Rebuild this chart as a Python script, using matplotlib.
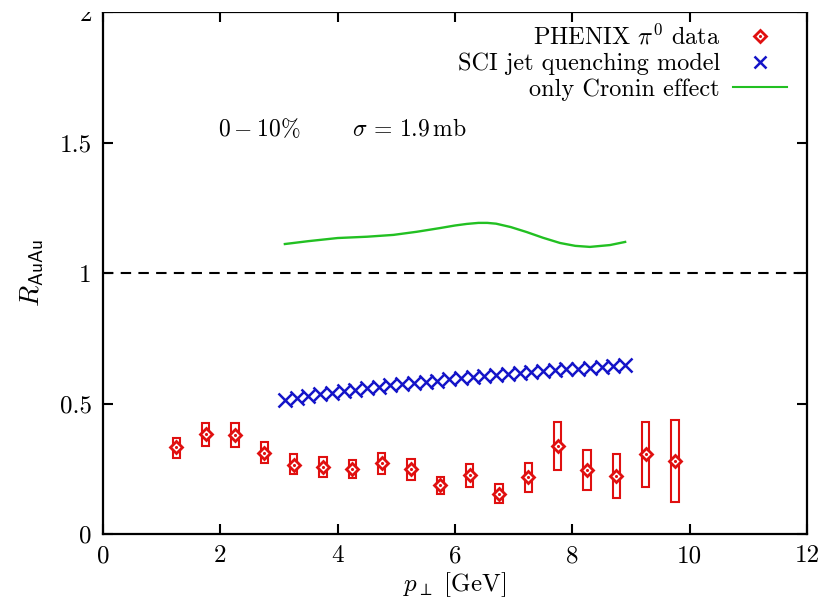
import matplotlib
matplotlib.use("Agg")
import matplotlib.pyplot as plt
from matplotlib.lines import Line2D
from matplotlib.patches import Rectangle

plt.rcParams['font.family'] = 'cmr10'
plt.rcParams['mathtext.fontset'] = 'cm'
plt.rcParams['axes.formatter.use_mathtext'] = True

# PHENIX pi0 data: pT, R_AA, systematic box (low, high)
pt_data = [1.25, 1.75, 2.25, 2.75, 3.25, 3.75, 4.25, 4.75, 5.25,
           5.75, 6.25, 6.75, 7.25, 7.75, 8.25, 8.75, 9.25, 9.75]
raa_data = [0.332, 0.382, 0.378, 0.309, 0.263, 0.255, 0.248, 0.271, 0.248,
            0.187, 0.225, 0.153, 0.218, 0.337, 0.245, 0.222, 0.306, 0.280]
sys_low = [0.290, 0.336, 0.332, 0.271, 0.229, 0.218, 0.214, 0.229, 0.206,
           0.153, 0.180, 0.118, 0.160, 0.244, 0.168, 0.138, 0.180, 0.122]
sys_high = [0.366, 0.424, 0.424, 0.351, 0.305, 0.294, 0.282, 0.309, 0.286,
            0.218, 0.267, 0.191, 0.271, 0.428, 0.321, 0.306, 0.428, 0.435]

# SCI jet quenching model
pt_sci = [3.1, 3.3, 3.5, 3.7, 3.9, 4.1, 4.3, 4.5, 4.7, 4.9,
          5.1, 5.3, 5.5, 5.7, 5.9, 6.1, 6.3, 6.5, 6.7, 6.9,
          7.1, 7.3, 7.5, 7.7, 7.9, 8.1, 8.3, 8.5, 8.7, 8.9]
raa_sci = [0.515, 0.522, 0.528, 0.535, 0.541, 0.547, 0.553, 0.558, 0.564, 0.569,
           0.574, 0.579, 0.584, 0.588, 0.593, 0.597, 0.601, 0.606, 0.610, 0.614,
           0.617, 0.621, 0.624, 0.628, 0.631, 0.634, 0.637, 0.640, 0.643, 0.646]

# Cronin effect only
pt_cronin = [3.1, 3.5, 4.0, 4.5, 4.95, 5.35, 5.74, 6.0, 6.2, 6.4, 6.55, 6.7,
             6.95, 7.22, 7.5, 7.79, 8.05, 8.3, 8.64, 8.9]
raa_cronin = [1.111, 1.122, 1.134, 1.139, 1.146, 1.158, 1.172, 1.182, 1.188, 1.192,
              1.192, 1.189, 1.176, 1.157, 1.135, 1.115, 1.104, 1.100, 1.107, 1.119]

red = '#e01010'
blue = '#1414c8'
green = '#22c022'

fig = plt.figure(figsize=(8.29, 6.01), dpi=100)
ax = fig.add_axes([103 / 829, 1 - 534 / 601, 704 / 829, 522 / 601])

ax.axhline(1.0, color='black', lw=1.5, dashes=(5, 3.5), zorder=1)

ax.plot(pt_cronin, raa_cronin, color=green, lw=1.7)
ax.plot(pt_sci, raa_sci, ls='none', marker='x', ms=9.5, mew=1.8, color=blue)

for x, lo, hi in zip(pt_data, sys_low, sys_high):
    ax.add_patch(Rectangle((x - 0.065, lo), 0.13, hi - lo, fill=False,
                           edgecolor=red, lw=1.5))
ax.plot(pt_data, raa_data, ls='none', marker='D', ms=6.5, mew=2,
        mfc='white', mec=red)
ax.plot(pt_data, raa_data, ls='none', marker='.', ms=2.5, color=red)

ax.text(1.96, 1.55, r'$0-10\%$', fontsize=17, va='center')
ax.text(4.24, 1.55, r'$\sigma\,=\,1.9\,\mathrm{mb}$', fontsize=17, va='center')

ax.set_xlim(0, 12)
ax.set_ylim(0, 2)
ax.set_xticks([0, 2, 4, 6, 8, 10, 12])
ax.set_yticks([0, 0.5, 1, 1.5, 2])
ax.set_xticklabels(['0', '2', '4', '6', '8', '10', '12'])
ax.set_yticklabels(['0', '0.5', '1', '1.5', '2'])
ax.tick_params(direction='in', length=7, width=1.5, labelsize=18,
               top=True, right=True, pad=8)
for s in ax.spines.values():
    s.set_linewidth(1.6)

ax.set_xlabel(r'$p_{\perp}\ [\mathrm{GeV}]$', fontsize=18, labelpad=2)
ax.set_ylabel(r'$R_{\mathsf{AuAu}}$', fontsize=20, labelpad=10)

h_data = (Line2D([], [], ls='none', marker='D', ms=6, mew=2, mfc='white', mec=red),
          Line2D([], [], ls='none', marker='.', ms=2.5, color=red))
h_sci = Line2D([], [], ls='none', marker='x', ms=9, mew=1.8, color=blue)
h_cronin = Line2D([], [], color=green, lw=1.5)
ax.legend([h_data, h_sci, h_cronin],
          [r'PHENIX $\pi^0$ data', 'SCI jet quenching model', 'only Cronin effect'],
          loc='upper right', bbox_to_anchor=(0.985, 0.995), frameon=False,
          markerfirst=False, fontsize=17.5, handlelength=2.2, handletextpad=0.55,
          labelspacing=0.12, borderaxespad=0)

# top strip of the page is blank
fig.add_artist(Rectangle((0, 1 - 11.5 / 601), 1, 11.5 / 601, transform=fig.transFigure,
                         facecolor='white', edgecolor='none', zorder=10))

fig.savefig('out.png', dpi=100)
